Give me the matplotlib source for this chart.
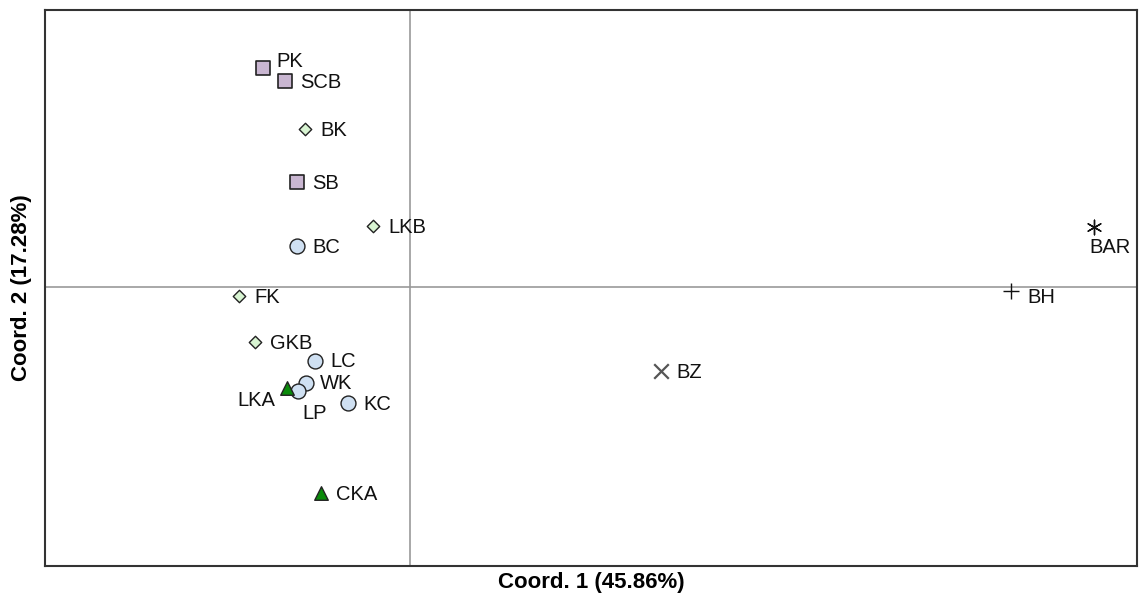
import matplotlib
matplotlib.use("Agg")
import matplotlib.pyplot as plt

plt.rcParams['font.family'] = ['Liberation Sans', 'DejaVu Sans']

# PCoA coordinates (arbitrary units)
names = ['PK', 'SCB', 'BK', 'SB', 'LKB', 'BC', 'FK', 'GKB', 'LC', 'WK', 'LP',
         'LKA', 'KC', 'CKA', 'BZ', 'BH', 'BAR']
coord1 = [-1.47, -1.25, -1.05, -1.13, -0.37, -1.13, -1.71, -1.55, -0.95, -1.04,
          -1.12, -1.23, -0.62, -0.89, 2.51, 6.01, 6.84]
coord2 = [2.19, 2.06, 1.58, 1.05, 0.61, 0.41, -0.09, -0.55, -0.74, -0.96, -1.04,
          -1.01, -1.16, -2.06, -0.84, -0.04, 0.60]
group = ['sq', 'sq', 'dm', 'sq', 'dm', 'ci', 'dm', 'dm', 'ci', 'ci', 'ci',
         'tr', 'ci', 'tr', 'x', 'plus', 'star']

styles = {
    'sq': dict(marker='s', s=100, facecolor='#c9b6d1', edgecolor='#222222', linewidths=1.2),
    'dm': dict(marker='D', s=40, facecolor='#d8f4d2', edgecolor='#222222', linewidths=1.0),
    'ci': dict(marker='o', s=115, facecolor='#cfe0f2', edgecolor='#222222', linewidths=1.0),
    'tr': dict(marker='^', s=95, facecolor='#0a8a0a', edgecolor='#222222', linewidths=1.0),
    'x': dict(marker='x', s=110, color='#555555', linewidths=1.6),
    'plus': dict(marker='+', s=120, color='#111111', linewidths=1.0),
    'star': dict(marker=(6, 2, 0), s=110, color='#111111', linewidths=1.0),
}

# label offsets in points
offsets = {'PK': (10, 5), 'BAR': (-3, -15), 'LKA': (-36, -9), 'LP': (3, -16),
           'WK': (10, 0), 'BH': (12, -5), 'LC': (11, 0)}

fig = plt.figure(figsize=(11.47, 5.97), dpi=100)
ax = fig.add_axes([0.0392, 0.0519, 0.9521, 0.9313])

ax.axhline(0, color='#999999', lw=1.2, zorder=1)
ax.axvline(0, color='#999999', lw=1.2, zorder=1)

for n, x, y, g in zip(names, coord1, coord2, group):
    ax.scatter([x], [y], zorder=3, **styles[g])
    dx, dy = offsets.get(n, (11, -1))
    ax.annotate(n, (x, y), xytext=(dx, dy), textcoords='offset points',
                fontsize=14.5, va='center', ha='left', color='#111111',
                annotation_clip=False)

ax.set_xlim(-3.65, 7.27)
ax.set_ylim(-2.79, 2.77)
ax.set_xticks([])
ax.set_yticks([])
for sp in ax.spines.values():
    sp.set_linewidth(1.5)
    sp.set_color('#333333')

ax.set_xlabel('Coord. 1 (45.86%)', fontsize=16, fontweight='bold', labelpad=4)
ax.set_ylabel('Coord. 2 (17.28%)', fontsize=16, fontweight='bold', labelpad=9)

fig.savefig('out.png', dpi=100)
